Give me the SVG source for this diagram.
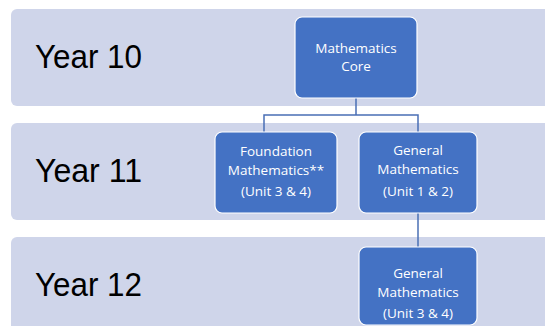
<svg xmlns="http://www.w3.org/2000/svg" width="545" height="326" viewBox="0 0 545 326">
<style>
.band{fill:#cfd5ea;}
.year{font-family:"Liberation Sans",Arial,sans-serif;font-size:34px;fill:#000;}
.box{fill:#4472c4;stroke:#ffffff;stroke-width:1.2;}
.lbl{font-family:"Open Sans","Liberation Sans",Arial,sans-serif;font-size:13.5px;fill:#ffffff;text-anchor:middle;}
.conn{fill:none;stroke:#4a6fb5;stroke-width:1.5;}
</style>
<rect width="545" height="326" fill="#ffffff"/>
<g id="band-year10">
<rect class="band" x="11" y="9" width="545" height="97" rx="6"/>
<text class="year" x="35" y="68" textLength="107" lengthAdjust="spacingAndGlyphs">Year 10</text>
</g>
<g id="band-year11">
<rect class="band" x="11" y="123" width="545" height="97" rx="6"/>
<text class="year" x="35" y="182" textLength="107" lengthAdjust="spacingAndGlyphs">Year 11</text>
</g>
<g id="band-year12">
<rect class="band" x="11" y="237" width="545" height="100" rx="6"/>
<text class="year" x="35" y="296" textLength="107" lengthAdjust="spacingAndGlyphs">Year 12</text>
</g>
<g id="connectors">
<path class="conn" d="M356,98 V115 M264,132 V115 H418 V132"/>
<path class="conn" d="M418,213 V247"/>
</g>
<g id="node-core">
<rect class="box" x="295" y="17" width="122" height="81" rx="7"/>
<text class="lbl" x="356" y="53">Mathematics</text>
<text class="lbl" x="356" y="71">Core</text>
</g>
<g id="node-foundation">
<rect class="box" x="215" y="132" width="122" height="81" rx="7"/>
<text class="lbl" x="276" y="156">Foundation</text>
<text class="lbl" x="276" y="175">Mathematics**</text>
<text class="lbl" x="276" y="196">(Unit 3 &amp; 4)</text>
</g>
<g id="node-general11">
<rect class="box" x="359" y="132" width="118" height="81" rx="7"/>
<text class="lbl" x="418" y="155">General</text>
<text class="lbl" x="418" y="174">Mathematics</text>
<text class="lbl" x="418" y="196">(Unit 1 &amp; 2)</text>
</g>
<g id="node-general12">
<rect class="box" x="359" y="247" width="118" height="78" rx="7"/>
<text class="lbl" x="418" y="278">General</text>
<text class="lbl" x="418" y="297">Mathematics</text>
<text class="lbl" x="418" y="318">(Unit 3 &amp; 4)</text>
</g>
</svg>
